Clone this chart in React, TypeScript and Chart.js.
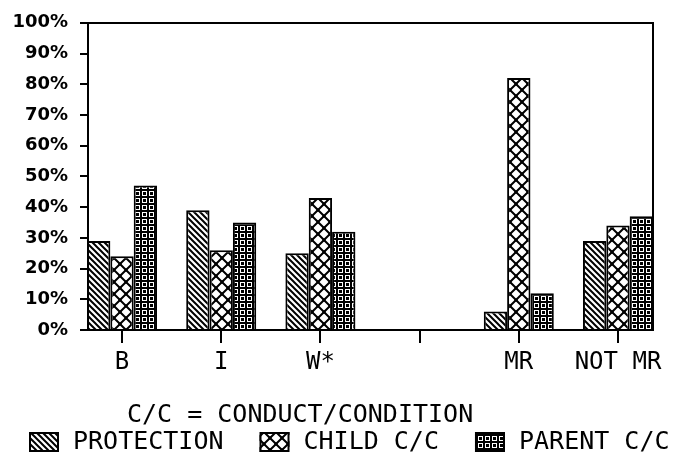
import React, { useEffect, useRef } from "react";
import { Chart, registerables } from "chart.js";

Chart.register(...registerables);

// ---- data ----
const categories = ["B", "I", "W*", "", "MR", "NOT MR"];
const seriesLabels = ["PROTECTION", "CHILD C/C", "PARENT C/C"];
const protection = [29, 39, 25, null, 6, 29];
const childCC = [24, 26, 43, null, 82, 34];
const parentCC = [47, 35, 32, null, 12, 37];
const yMin = 0;
const yMax = 100;
const yStep = 10;
const caption = "C/C = CONDUCT/CONDITION";

const MONO = '"DejaVu Sans Mono", monospace';

function makePattern(kind: string): CanvasPattern | string {
  const c = document.createElement("canvas");
  const size = kind === "child" ? 12 : kind === "parent" ? 7 : 6;
  c.width = size;
  c.height = size;
  const g = c.getContext("2d");
  if (!g) return "#888";
  g.fillStyle = "#fff";
  g.fillRect(0, 0, size, size);
  g.fillStyle = "#000";
  g.strokeStyle = "#000";
  if (kind === "protection") {
    g.lineWidth = 2;
    g.beginPath();
    for (const k of [-1, 0, 1]) {
      g.moveTo(k * size - 1, -1);
      g.lineTo(k * size + size + 1, size + 1);
    }
    g.stroke();
  } else if (kind === "child") {
    g.lineWidth = 2;
    g.beginPath();
    g.moveTo(-1, -1);
    g.lineTo(size + 1, size + 1);
    g.moveTo(size + 1, -1);
    g.lineTo(-1, size + 1);
    g.stroke();
    g.fillRect(size / 2 - 1.5, size / 2 - 1.5, 3, 3);
    g.fillRect(0, 0, 1.5, 1.5);
    g.fillRect(size - 1.5, 0, 1.5, 1.5);
    g.fillRect(0, size - 1.5, 1.5, 1.5);
    g.fillRect(size - 1.5, size - 1.5, 1.5, 1.5);
  } else {
    g.fillRect(0, 0, size, 2);
    g.fillRect(0, 0, 2, size);
    g.fillRect(3, 3, 3, 3);
  }
  const ctx = document.createElement("canvas").getContext("2d");
  return (ctx && ctx.createPattern(c, "repeat")) || "#888";
}

const captionLegendPlugin = {
  id: "captionLegend",
  afterDraw(chart: any) {
    const { ctx } = chart;
    ctx.save();
    ctx.fillStyle = "#000";
    ctx.font = `25px ${MONO}`;
    ctx.textBaseline = "middle";
    ctx.textAlign = "left";
    ctx.fillText(caption, 127, 415);
    let x = 29;
    chart.data.datasets.forEach((ds: any) => {
      ctx.fillStyle = ds.backgroundColor;
      ctx.fillRect(x, 432, 30, 20);
      ctx.strokeStyle = "#000";
      ctx.lineWidth = 2;
      ctx.strokeRect(x + 1, 433, 28, 18);
      ctx.fillStyle = "#000";
      ctx.fillText(ds.label, x + 44, 442);
      x += 44 + ctx.measureText(ds.label).width + 36;
    });
    ctx.restore();
  },
};

export default function App() {
  const ref = useRef<HTMLCanvasElement>(null);

  useEffect(() => {
    if (!ref.current) return;
    const patterns = [makePattern("protection"), makePattern("child"), makePattern("parent")];
    const series = [protection, childCC, parentCC];
    const chart = new Chart(ref.current, {
      type: "bar",
      data: {
        datasets: series.map((vals, si) => ({
          label: seriesLabels[si],
          data: categories.map((_, i) => ({ x: i, y: vals[i] })),
          backgroundColor: patterns[si] as any,
          borderColor: "#000",
          borderWidth: 2,
          categoryPercentage: 0.706,
          barPercentage: 1,
        })),
      },
      options: {
        responsive: false,
        animation: false,
        devicePixelRatio: 1,
        layout: { padding: { top: 15, left: 0, right: 0, bottom: 0 } },
        plugins: {
          legend: { display: false },
          tooltip: { enabled: false },
          title: { display: false },
        },
        scales: {
          x: {
            type: "linear",
            bounds: "data",
            min: -0.343,
            max: 5.353,
            offset: false,
            afterBuildTicks: (s: any) => {
              s.ticks = categories.map((_, i) => ({ value: i }));
            },
            afterFit: (s: any) => {
              s.height = 131;
            },
            grid: {
              display: true,
              drawOnChartArea: false,
              offset: false,
              color: "#000",
              lineWidth: 2,
              tickLength: 13,
            },
            border: { display: true, color: "#000", width: 2 },
            ticks: {
              autoSkip: false,
              maxRotation: 0,
              minRotation: 0,
              padding: 5,
              color: "#000",
              font: { family: MONO, size: 24 },
              callback: (v: any) => categories[Math.round(Number(v))] ?? "",
            },
          },
          y: {
            type: "linear",
            min: yMin,
            max: yMax,
            afterFit: (s: any) => {
              s.width = 88;
            },
            ticks: {
              stepSize: yStep,
              padding: 12,
              color: "#000",
              font: { family: '"DejaVu Sans", sans-serif', size: 18, weight: "bold" },
              callback: (v: any) => `${v}%`,
            },
            grid: {
              drawOnChartArea: true,
              color: (c: any) => (c.tick && c.tick.value === yMax ? "#000" : "rgba(0,0,0,0)"),
              tickColor: "#000",
              lineWidth: 2,
              tickLength: 8,
            },
            border: { display: true, color: "#000", width: 2 },
          },
          y2: {
            type: "linear",
            position: "right",
            min: yMin,
            max: yMax,
            grid: { display: false },
            ticks: { display: false },
            border: { display: true, color: "#000", width: 2 },
            afterFit: (s: any) => {
              s.width = 22;
            },
          },
        },
      } as any,
      plugins: [captionLegendPlugin],
    });
    return () => chart.destroy();
  }, []);

  return (
    <div style={{ position: "absolute", left: 0, top: 0, width: 675, height: 461, background: "#fff" }}>
      <canvas ref={ref} width={675} height={461} style={{ display: "block" }} />
    </div>
  );
}
